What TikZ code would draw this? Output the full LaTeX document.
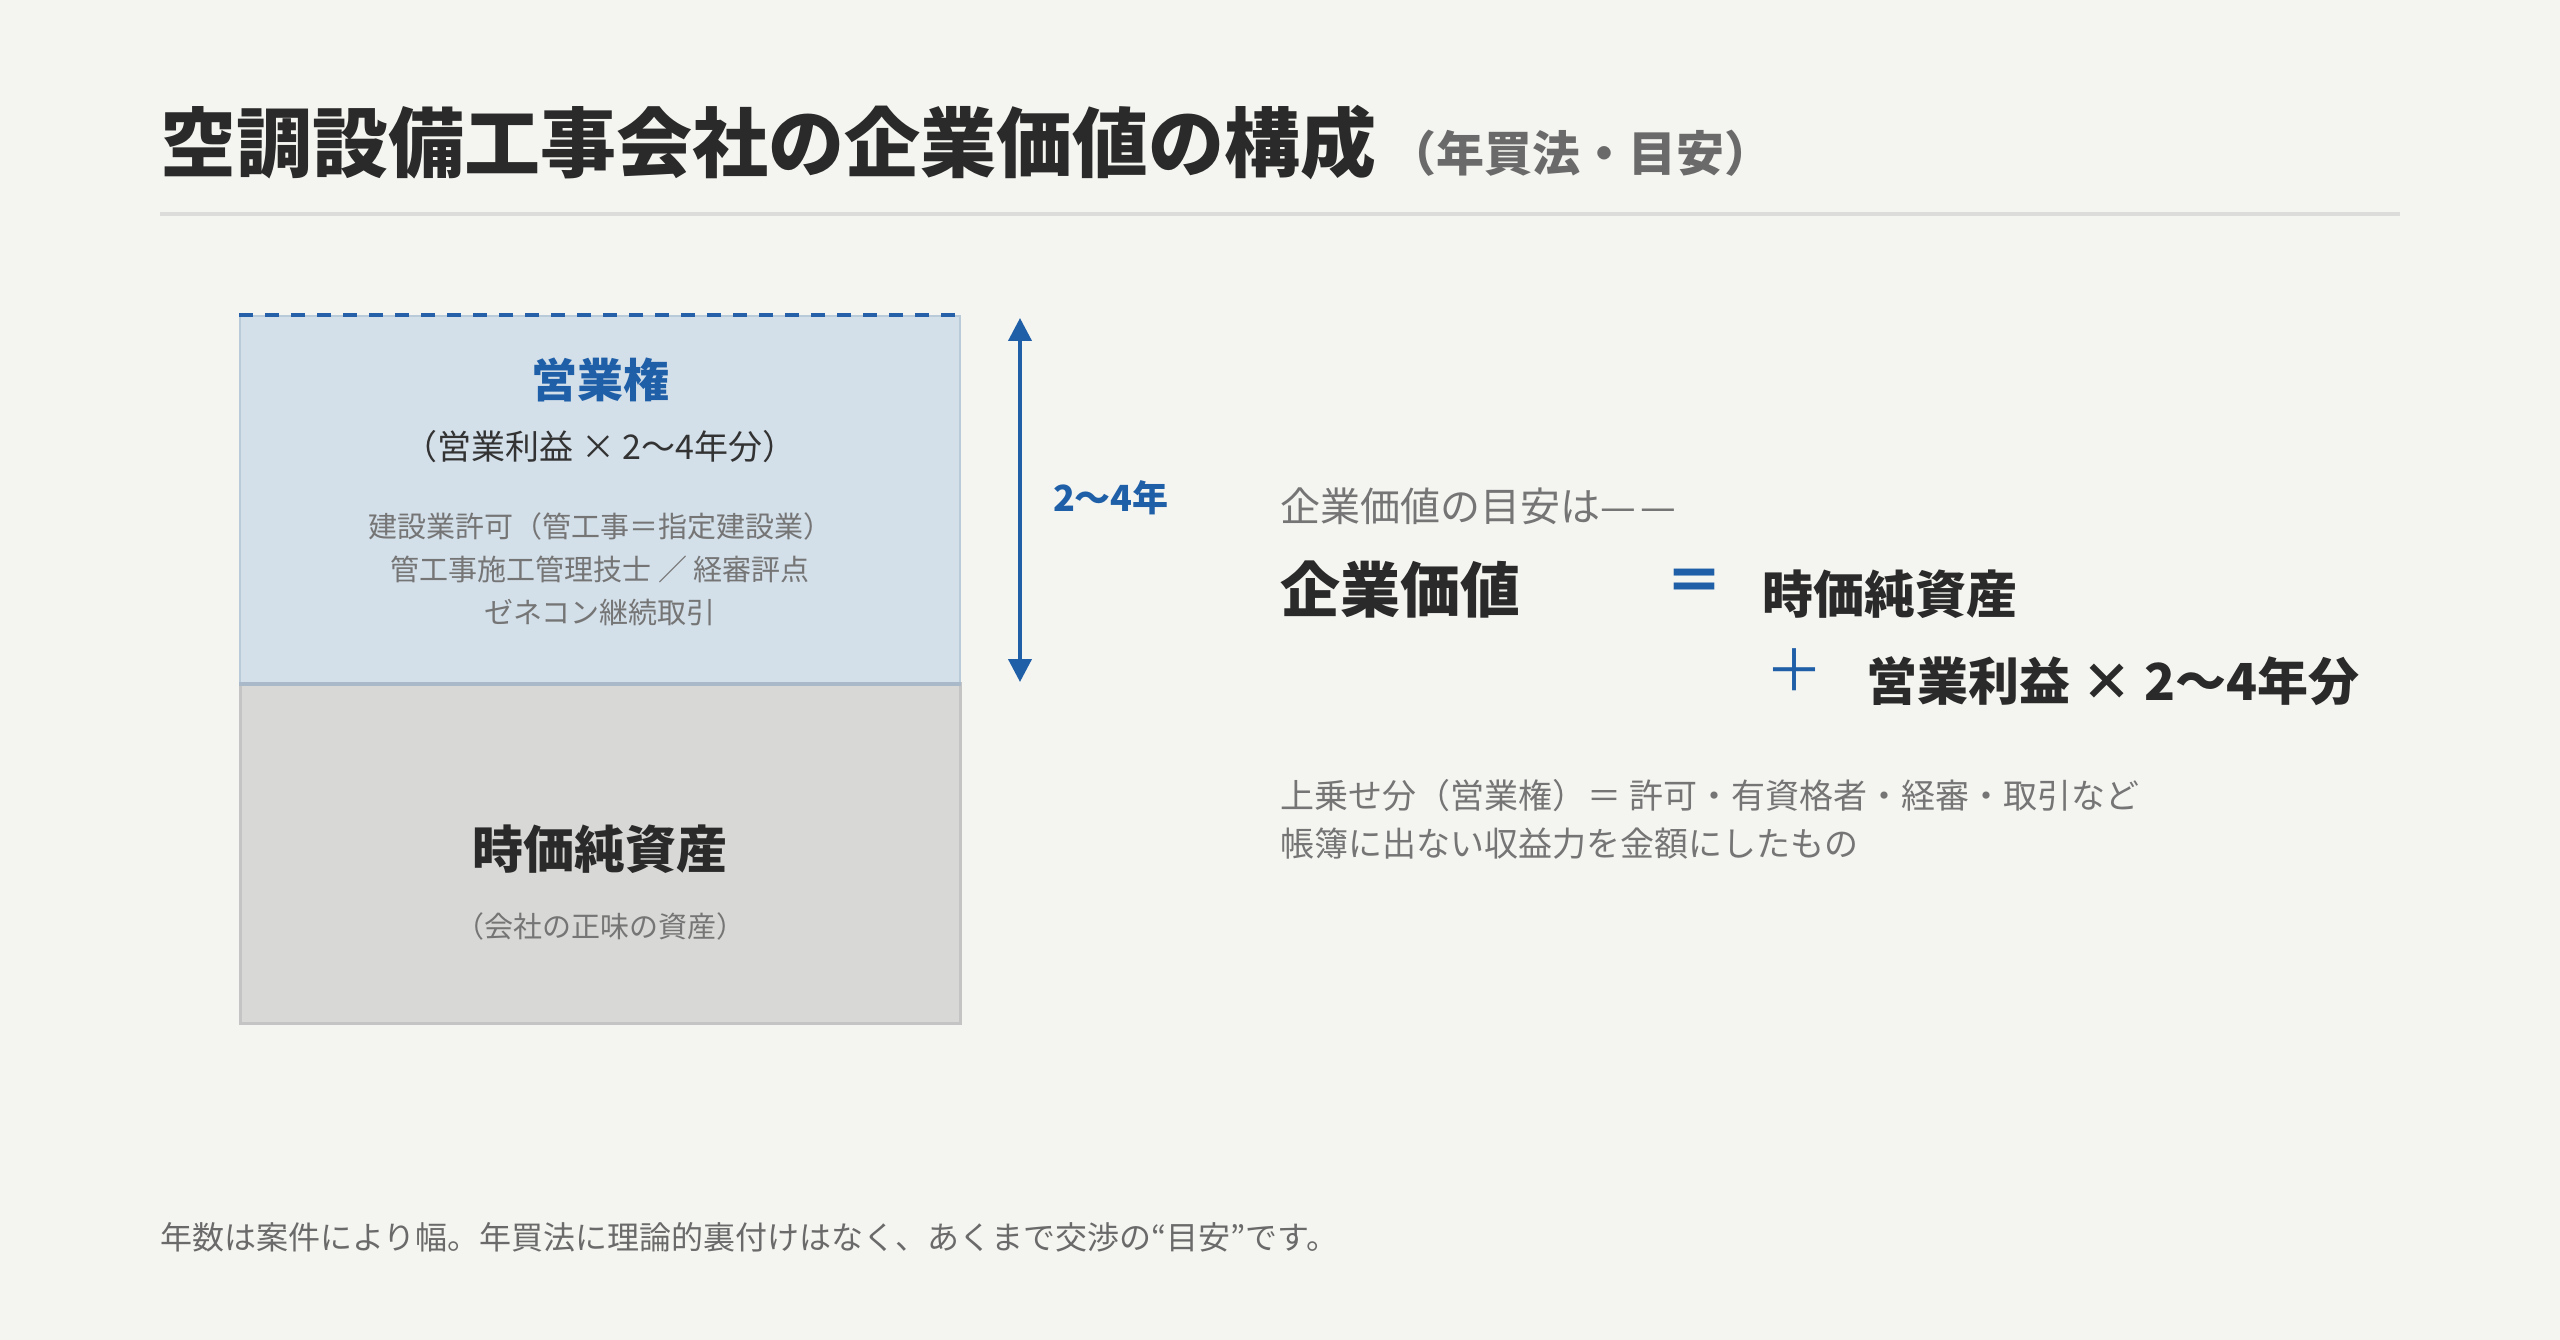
\documentclass[tikz,border=0pt]{standalone}
\usepackage{fontspec}
\setmainfont{Noto Sans CJK JP}
\usetikzlibrary{arrows.meta}
\definecolor{bg}{HTML}{F4F4F0}
\definecolor{ink}{HTML}{2A2A2A}
\definecolor{mid}{HTML}{333333}
\definecolor{soft}{HTML}{757575}
\definecolor{subgray}{HTML}{6A6A6A}
\definecolor{blu}{HTML}{1F5FA8}
\definecolor{dashblu}{HTML}{2560A8}
\definecolor{bluefill}{HTML}{D3DFE9}
\definecolor{blueedge}{HTML}{B9CAD9}
\definecolor{divider}{HTML}{A9B9C9}
\definecolor{grayfill}{HTML}{D8D8D6}
\definecolor{grayedge}{HTML}{C4C4C4}
\definecolor{rulecol}{HTML}{DCDCDA}
\newcommand\pxs[1]{\fontsize{#1}{#1}\selectfont}
\tikzset{
  txt/.style={inner sep=0pt, outer sep=0pt},
  boxshape/.style={rectangle, inner sep=0pt, minimum width=720pt},
}
\begin{document}
\begin{tikzpicture}[x=1pt,y=-1pt]
\useasboundingbox (0,0) rectangle (2560,1340);
\fill[bg] (0,0) rectangle (2560,1340);
% title
\node[txt, anchor=west, text=ink, font=\bfseries\pxs{76}] (title) at (160,143) {空調設備工事会社の企業価値の構成};
\node[txt, anchor=base west, text=subgray, font=\bfseries\pxs{48}] (sub) at ([xshift=12pt]title.base east) {（年買法・目安）};
\coordinate (rl) at (160,214);
\coordinate (rr) at (2400,214);
\draw[rulecol, line width=4pt] (rl) -- (rr);
% boxes
\node[boxshape, minimum height=340pt, fill=grayfill, draw=grayedge, line width=3pt] (nav) at (600,853) {};
\node[boxshape, minimum height=367pt, fill=bluefill, draw=blueedge, line width=2pt] (gw) at (600,499.5) {};
\draw[dashblu, line width=4pt, dash pattern=on 14pt off 12pt] (gw.north west) -- (gw.north east);
\draw[divider, line width=4pt] (gw.south west) -- (gw.south east);
% goodwill texts
\node[txt, text=blu, font=\bfseries\pxs{46}] (gwt) at (600,380) {営業権};
\node[txt, text=mid, font=\pxs{34}] (gwf) at (600,447) {（営業利益 × 2〜4年分）};
\node[txt, text=soft, font=\pxs{29}] (gw1) at (600,526) {建設業許可（管工事＝指定建設業）};
\node[txt, text=soft, font=\pxs{29}] (gw2) at (600,569) {管工事施工管理技士 ／ 経審評点};
\node[txt, text=soft, font=\pxs{29}] (gw3) at (600,612) {ゼネコン継続取引};
% net assets texts
\node[txt, text=ink, font=\bfseries\pxs{51}] (navt) at (600,849) {時価純資産};
\node[txt, text=soft, font=\pxs{29}] (navs) at (600,926) {（会社の正味の資産）};
% arrow
\coordinate (atop) at (1020,318);
\coordinate (abot) at (1020,682);
\draw[blu, line width=4pt, {Triangle[width=23pt,length=23pt]}-{Triangle[width=23pt,length=23pt]}] (atop) -- (abot);
\node[txt, anchor=west, text=blu, font=\bfseries\pxs{36}] (yrs) at (1053,498) {2〜4年};
% formula
\node[txt, anchor=west, text=soft, font=\pxs{40}] (intro) at (1280,506) {企業価値の目安は—\kern5pt—};
\node[txt, anchor=west, text=ink, font=\bfseries\pxs{60}] (ev) at (1280,590) {企業価値};
\node[txt, text=blu, font=\bfseries\pxs{58}] (eq) at (1694,586) {＝};
\node[txt, anchor=west, text=ink, font=\bfseries\pxs{51}] (fnav) at (1762,594) {時価純資産};
\node[txt, text=blu, font=\pxs{58}] (plus) at (1794,670) {＋};
\node[txt, anchor=west, text=ink, font=\bfseries\pxs{51}] (fgw) at (1866,681) {営業利益 × 2〜4年分};
\node[txt, anchor=west, text=soft, font=\pxs{34}] (n1) at (1280,796) {上乗せ分（営業権）\kern2pt＝ 許可・有資格者・経審・取引など};
\node[txt, anchor=west, text=soft, font=\pxs{34}] (n2) at (1280,844) {帳簿に出ない収益力を金額にしたもの};
% footer
\node[txt, anchor=west, text=subgray, font=\pxs{32}] (foot) at (160,1237) {年数は案件により幅。年買法に理論的裏付けはなく、あくまで交渉の“目安”です。};
\end{tikzpicture}
\end{document}
